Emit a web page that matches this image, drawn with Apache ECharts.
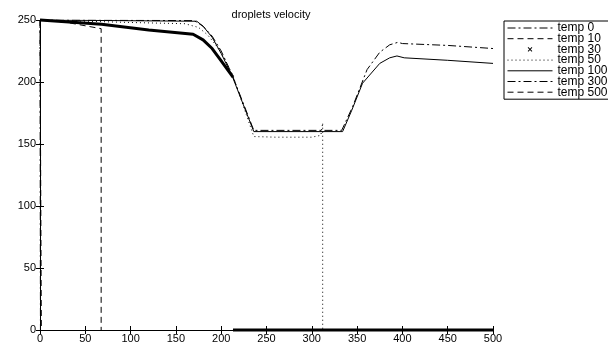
<!DOCTYPE html>
<html><head><meta charset="utf-8">
<script src="https://cdn.jsdelivr.net/npm/echarts@6/dist/echarts.min.js"></script>
<style>html,body{margin:0;padding:0;background:#fff}#c{width:608px;height:347px}</style>
</head><body><div id="c"></div>
<script>
const seriesNames = ['temp 0','temp 10','temp 30','temp 50','temp 100','temp 300','temp 500'];
const xTicks = [0,50,100,150,200,250,300,350,400,450,500];
const yTicks = [0,50,100,150,200,250];

const temp0 = [[0,250],[0.5,0]];
const temp10 = [[0,250],[30,248],[67.5,243],[67.5,0]];
const temp30 = [[0,250],[68,246.5],[120,242],[169,238.5],[180,234],[190,227],[200,217],[210,207],[213,204],[213,null],[213,0],[500,0]];
const temp50 = [[0,250],[100,248],[160,247],[175,244],[185,238],[195,229],[205,217],[213,205],[236,156],[260,155.5],[300,155.5],[310,157],[312,167],[312,0]];
const temp100 = [[0,250],[173,249],[180,245],[190,236],[200,223],[212,205],[236,160],[334,160],[344,177],[356,199],[375,215],[386,219.5],[394,221],[402,219.5],[450,217.5],[500,215]];
const temp300 = [[0,250],[170,249.5],[180,245],[190,237],[200,225],[212,206],[236,161],[333,161],[345,180],[361,210],[375,224],[386,230],[395,232],[400,231],[450,229.5],[500,227]];
const temp500 = [[0,250],[1.5,249],[1.5,0]];

const dashDot = [8,3,2,3];
const dashed = [6,4];
const dotted = [1,3];
const font = 'Liberation Sans, Arial, sans-serif';
const crossIcon = 'path://M0 0L0.01 0L0.01 0.01ZM100 100L99.99 100L99.99 99.99ZM27 33L33 27L73 67L67 73ZM67 27L73 33L33 73L27 67Z';

function mk(name, data, type, width, extra) {
  return Object.assign({
    name, type: 'line', data, symbol: 'none', showSymbol: false, connectNulls: false,
    lineStyle: {color: '#000', width: width, type: type},
    itemStyle: {color: '#000'},
    animation: false, xAxisIndex: 0, yAxisIndex: 0
  }, extra || {});
}

const chart = echarts.init(document.getElementById('c'));
const axisCommon = {
  type: 'value', splitLine: {show: false},
  axisLine: {show: true, lineStyle: {color: '#000', width: 1}},
  axisTick: {show: true, inside: true, length: 4, lineStyle: {color: '#000'}},
};
chart.setOption({
  animation: false,
  backgroundColor: '#fff',
  title: {text: 'droplets velocity', left: 266, top: 4, textAlign: 'center',
    textStyle: {fontFamily: font, fontSize: 11, fontWeight: 'normal', color: '#000'}},
  grid: {left: 40, right: 115, top: 20, bottom: 17, containLabel: false},
  legend: {
    orient: 'vertical', left: 504, top: 21, padding: [1, 40, 1, 3], itemGap: -1.3,
    itemWidth: 45, itemHeight: 10, selectedMode: false,
    backgroundColor: '#fff', borderColor: '#000', borderWidth: 1,
    itemStyle: {opacity: 0},
    lineStyle: {width: 1},
    textStyle: {fontFamily: font, fontSize: 12, color: '#000'},
    data: [
      {name: 'temp 0'}, {name: 'temp 10'},
      {name: 'temp 30', icon: crossIcon, itemStyle: {color: '#000', opacity: 1}},
      {name: 'temp 50'}, {name: 'temp 100'}, {name: 'temp 300'}, {name: 'temp 500'}
    ]
  },
  xAxis: [
    Object.assign({}, axisCommon, {min: 0, max: 500, interval: 50, position: 'bottom',
      axisLabel: {fontFamily: font, fontSize: 11, color: '#000', margin: 3}}),
    Object.assign({}, axisCommon, {min: 0, max: 500, interval: 50, position: 'top',
      axisLabel: {show: false}})
  ],
  yAxis: [
    Object.assign({}, axisCommon, {min: 0, max: 250, interval: 50, position: 'left',
      axisLabel: {fontFamily: font, fontSize: 11, color: '#000', margin: 4}}),
    Object.assign({}, axisCommon, {min: 0, max: 250, interval: 50, position: 'right',
      axisLabel: {show: false}})
  ],
  series: [
    mk('temp 0', temp0, dashDot, 1),
    mk('temp 10', temp10, dashed, 1),
    mk('temp 30', temp30, 'solid', 3, {clip: false}),
    mk('temp 50', temp50, dotted, 1),
    mk('temp 100', temp100, 'solid', 1),
    mk('temp 300', temp300, dashDot, 1),
    mk('temp 500', temp500, dashed, 1)
  ]
});
</script></body></html>
